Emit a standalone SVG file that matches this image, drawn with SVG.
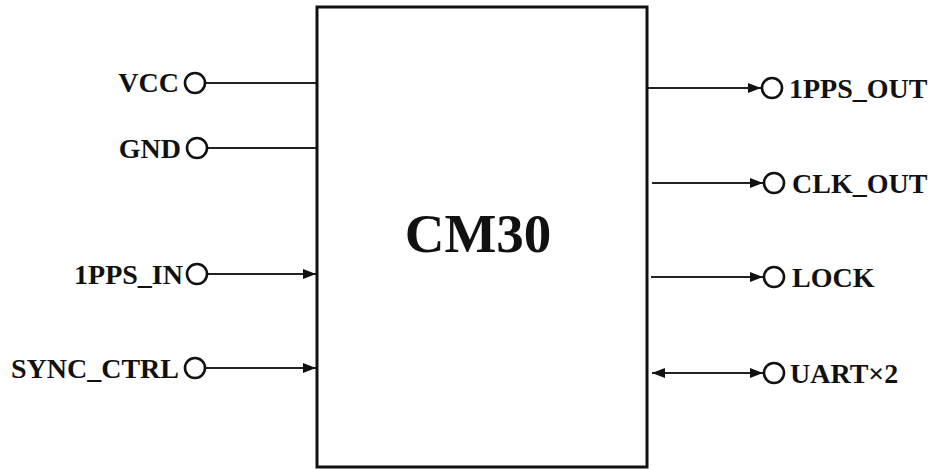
<svg xmlns="http://www.w3.org/2000/svg" width="930" height="469" viewBox="0 0 930 469">
<style>
.lbl{font-family:"Liberation Serif","Times New Roman",serif;font-weight:bold;font-size:28px;fill:#111}
.port{fill:#fff;stroke:#111;stroke-width:2.6}
.wire{stroke:#222;stroke-width:1.8;fill:none}
</style>
<defs>
<marker id="ah" viewBox="0 0 13 10" refX="13" refY="5" markerWidth="13" markerHeight="10" markerUnits="userSpaceOnUse" orient="auto-start-reverse">
<path d="M0,0 L13,5 L0,10 Z" fill="#111"/>
</marker>
</defs>
<rect width="930" height="469" fill="#fff"/>
<g id="connectors">
<line class="wire" x1="206" y1="83" x2="317" y2="83"/>
<line class="wire" x1="207" y1="148" x2="317" y2="148"/>
<line class="wire" x1="207" y1="274" x2="316" y2="274" marker-end="url(#ah)"/>
<line class="wire" x1="205" y1="368" x2="316" y2="368" marker-end="url(#ah)"/>
<line class="wire" x1="647" y1="88" x2="761" y2="88" marker-end="url(#ah)"/>
<line class="wire" x1="652" y1="183" x2="763" y2="183" marker-end="url(#ah)"/>
<line class="wire" x1="651" y1="277" x2="763" y2="277" marker-end="url(#ah)"/>
<line class="wire" x1="652" y1="373" x2="763" y2="373" marker-start="url(#ah)" marker-end="url(#ah)"/>
</g>
<g id="cm30">
<rect x="317" y="7" width="330" height="460" fill="#fff" stroke="#111" stroke-width="3"/>
<text x="478" y="252" text-anchor="middle" style="font-family:'Liberation Serif','Times New Roman',serif;font-weight:bold;font-size:55px;fill:#111">CM30</text>
</g>
<g id="vcc"><circle class="port" cx="195" cy="83" r="10"/><text class="lbl" x="179" y="92" text-anchor="end">VCC</text></g>
<g id="gnd"><circle class="port" cx="197" cy="148" r="10"/><text class="lbl" x="181" y="158" text-anchor="end">GND</text></g>
<g id="pps-in"><circle class="port" cx="197" cy="274" r="10"/><text class="lbl" x="183" y="284" text-anchor="end">1PPS_IN</text></g>
<g id="sync-ctrl"><circle class="port" cx="195" cy="368" r="10"/><text class="lbl" x="179" y="378" text-anchor="end">SYNC_CTRL</text></g>
<g id="pps-out"><circle class="port" cx="772" cy="88" r="10"/><text class="lbl" x="789" y="98">1PPS_OUT</text></g>
<g id="clk-out"><circle class="port" cx="774" cy="183" r="10"/><text class="lbl" x="792" y="193">CLK_OUT</text></g>
<g id="lock"><circle class="port" cx="774" cy="277" r="10"/><text class="lbl" x="792" y="287">LOCK</text></g>
<g id="uart"><circle class="port" cx="774" cy="373" r="10"/><text class="lbl" x="790" y="383">UART×2</text></g>
</svg>
